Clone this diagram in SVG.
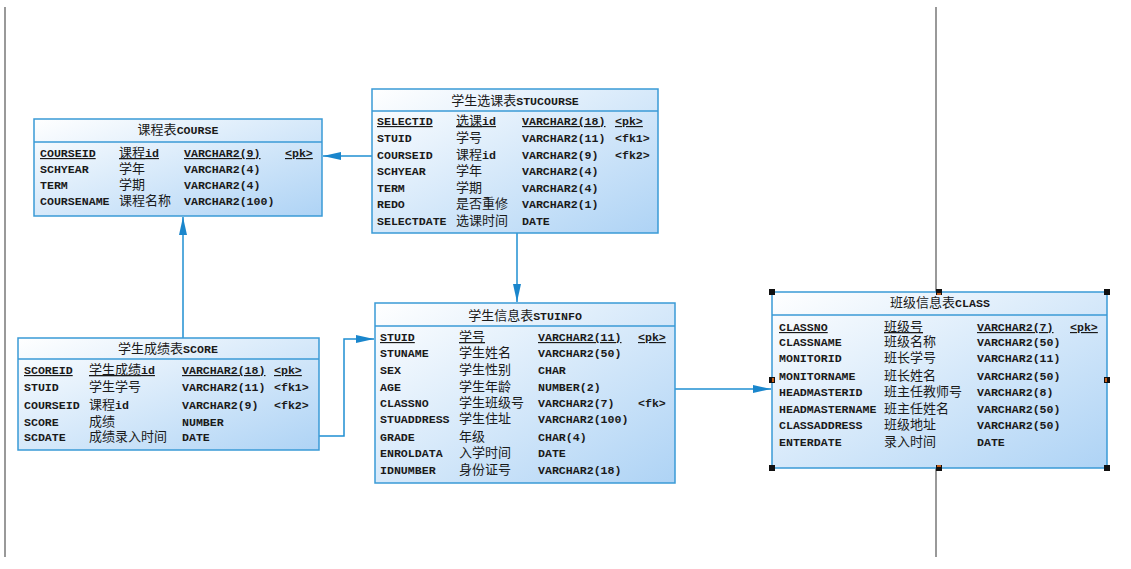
<svg xmlns="http://www.w3.org/2000/svg" width="1131" height="569" viewBox="0 0 1131 569">
<defs>
<linearGradient id="g" x1="0" y1="0" x2="1" y2="1">
<stop offset="0" stop-color="#ffffff"/>
<stop offset="1" stop-color="#aed3f5"/>
</linearGradient>
<marker id="arr" viewBox="0 0 18 10" refX="18" refY="5" markerWidth="18" markerHeight="10" markerUnits="userSpaceOnUse" orient="auto">
<path d="M0,1 L18,5 L0,9 Z" fill="#1a86cc"/>
</marker>
<style>
.box{fill:url(#g);stroke:#3a9ad6;stroke-width:1.5}
.sep{stroke:#3a9ad6;stroke-width:1.5}
text{font-family:"Liberation Mono","DejaVu Sans Mono",monospace;font-size:11.6px;font-weight:bold;fill:#1a1a1a}
.c{font-family:"Noto Sans CJK SC","Noto Sans",sans-serif;font-size:13px;font-weight:normal}
.h{text-anchor:middle}
.u{text-decoration:underline}
.con{fill:none;stroke:#1f8fd2;stroke-width:1.5}
.frame{stroke:#555;stroke-width:1.2}
.hd{fill:#111}
.hm{fill:#c8601a}
</style>
</defs>
<line class="frame" x1="5" y1="7" x2="5" y2="557"/>
<line class="frame" x1="936" y1="7" x2="936" y2="557"/>

<g id="connectors">
<line class="con" x1="372" y1="156" x2="323" y2="156" marker-end="url(#arr)"/>
<line class="con" x1="517" y1="233" x2="517" y2="302" marker-end="url(#arr)"/>
<line class="con" x1="183" y1="338" x2="183" y2="217" marker-end="url(#arr)"/>
<polyline class="con" points="319,436 344,436 344,339 374,339" marker-end="url(#arr)"/>
<line class="con" x1="675" y1="389" x2="771" y2="389" marker-end="url(#arr)"/>
</g>

<g id="course">
<rect class="box" x="34" y="119" width="288" height="97"/>
<line class="sep" x1="34" y1="142" x2="322" y2="142"/>
<text class="h" x="178" y="134"><tspan class="c">课程表</tspan>COURSE</text>
<text x="40" y="157" class="u">COURSEID</text><text x="119" y="157" class="u"><tspan class="c">课程</tspan>id</text><text x="184" y="157" class="u">VARCHAR2(9)</text><text x="285" y="157" class="u">&lt;pk&gt;</text>
<text x="40" y="173">SCHYEAR</text><text x="119" y="173" class="c">学年</text><text x="184" y="173">VARCHAR2(4)</text>
<text x="40" y="189">TERM</text><text x="119" y="189" class="c">学期</text><text x="184" y="189">VARCHAR2(4)</text>
<text x="40" y="205">COURSENAME</text><text x="119" y="205" class="c">课程名称</text><text x="184" y="205">VARCHAR2(100)</text>
</g>

<g id="stucourse">
<rect class="box" x="372" y="89" width="286" height="144"/>
<line class="sep" x1="372" y1="111" x2="658" y2="111"/>
<text class="h" x="515" y="105"><tspan class="c">学生选课表</tspan>STUCOURSE</text>
<text x="377" y="125" class="u">SELECTID</text><text x="456" y="125" class="u"><tspan class="c">选课</tspan>id</text><text x="522" y="125" class="u">VARCHAR2(18)</text><text x="615" y="125" class="u">&lt;pk&gt;</text>
<text x="377" y="142">STUID</text><text x="456" y="142" class="c">学号</text><text x="522" y="142">VARCHAR2(11)</text><text x="615" y="142">&lt;fk1&gt;</text>
<text x="377" y="159">COURSEID</text><text x="456" y="159"><tspan class="c">课程</tspan>id</text><text x="522" y="159">VARCHAR2(9)</text><text x="615" y="159">&lt;fk2&gt;</text>
<text x="377" y="175">SCHYEAR</text><text x="456" y="175" class="c">学年</text><text x="522" y="175">VARCHAR2(4)</text>
<text x="377" y="192">TERM</text><text x="456" y="192" class="c">学期</text><text x="522" y="192">VARCHAR2(4)</text>
<text x="377" y="208">REDO</text><text x="456" y="208" class="c">是否重修</text><text x="522" y="208">VARCHAR2(1)</text>
<text x="377" y="225">SELECTDATE</text><text x="456" y="225" class="c">选课时间</text><text x="522" y="225">DATE</text>
</g>

<g id="score">
<rect class="box" x="18" y="338" width="301" height="112"/>
<line class="sep" x1="18" y1="359" x2="319" y2="359"/>
<text class="h" x="168" y="353"><tspan class="c">学生成绩表</tspan>SCORE</text>
<text x="24" y="374" class="u">SCOREID</text><text x="89" y="374" class="u"><tspan class="c">学生成绩</tspan>id</text><text x="182" y="374" class="u">VARCHAR2(18)</text><text x="274" y="374" class="u">&lt;pk&gt;</text>
<text x="24" y="391">STUID</text><text x="89" y="391" class="c">学生学号</text><text x="182" y="391">VARCHAR2(11)</text><text x="274" y="391">&lt;fk1&gt;</text>
<text x="24" y="409">COURSEID</text><text x="89" y="409"><tspan class="c">课程</tspan>id</text><text x="182" y="409">VARCHAR2(9)</text><text x="274" y="409">&lt;fk2&gt;</text>
<text x="24" y="426">SCORE</text><text x="89" y="426" class="c">成绩</text><text x="182" y="426">NUMBER</text>
<text x="24" y="441">SCDATE</text><text x="89" y="441" class="c">成绩录入时间</text><text x="182" y="441">DATE</text>
</g>

<g id="stuinfo">
<rect class="box" x="375" y="303" width="300" height="180"/>
<line class="sep" x1="375" y1="326" x2="675" y2="326"/>
<text class="h" x="525" y="320"><tspan class="c">学生信息表</tspan>STUINFO</text>
<text x="380" y="341" class="u">STUID</text><text x="459" y="341" class="u c">学号</text><text x="538" y="341" class="u">VARCHAR2(11)</text><text x="638" y="341" class="u">&lt;pk&gt;</text>
<text x="380" y="357">STUNAME</text><text x="459" y="357" class="c">学生姓名</text><text x="538" y="357">VARCHAR2(50)</text>
<text x="380" y="374">SEX</text><text x="459" y="374" class="c">学生性别</text><text x="538" y="374">CHAR</text>
<text x="380" y="391">AGE</text><text x="459" y="391" class="c">学生年龄</text><text x="538" y="391">NUMBER(2)</text>
<text x="380" y="407">CLASSNO</text><text x="459" y="407" class="c">学生班级号</text><text x="538" y="407">VARCHAR2(7)</text><text x="638" y="407">&lt;fk&gt;</text>
<text x="380" y="423">STUADDRESS</text><text x="459" y="423" class="c">学生住址</text><text x="538" y="423">VARCHAR2(100)</text>
<text x="380" y="441">GRADE</text><text x="459" y="441" class="c">年级</text><text x="538" y="441">CHAR(4)</text>
<text x="380" y="457">ENROLDATA</text><text x="459" y="457" class="c">入学时间</text><text x="538" y="457">DATE</text>
<text x="380" y="474">IDNUMBER</text><text x="459" y="474" class="c">身份证号</text><text x="538" y="474">VARCHAR2(18)</text>
</g>

<g id="class">
<rect class="box" x="772" y="292" width="335" height="176"/>
<line class="sep" x1="772" y1="315" x2="1107" y2="315"/>
<text class="h" x="940" y="307"><tspan class="c">班级信息表</tspan>CLASS</text>
<text x="779" y="331" class="u">CLASSNO</text><text x="884" y="331" class="u c">班级号</text><text x="977" y="331" class="u">VARCHAR2(7)</text><text x="1070" y="331" class="u">&lt;pk&gt;</text>
<text x="779" y="346">CLASSNAME</text><text x="884" y="346" class="c">班级名称</text><text x="977" y="346">VARCHAR2(50)</text>
<text x="779" y="362">MONITORID</text><text x="884" y="362" class="c">班长学号</text><text x="977" y="362">VARCHAR2(11)</text>
<text x="779" y="380">MONITORNAME</text><text x="884" y="380" class="c">班长姓名</text><text x="977" y="380">VARCHAR2(50)</text>
<text x="779" y="396">HEADMASTERID</text><text x="884" y="396" class="c">班主任教师号</text><text x="977" y="396">VARCHAR2(8)</text>
<text x="779" y="413">HEADMASTERNAME</text><text x="884" y="413" class="c">班主任姓名</text><text x="977" y="413">VARCHAR2(50)</text>
<text x="779" y="429">CLASSADDRESS</text><text x="884" y="429" class="c">班级地址</text><text x="977" y="429">VARCHAR2(50)</text>
<text x="779" y="446">ENTERDATE</text><text x="884" y="446" class="c">录入时间</text><text x="977" y="446">DATE</text>
<rect class="hd" x="769" y="289" width="6" height="6"/>
<rect class="hd" x="1104" y="289" width="6" height="6"/>
<rect class="hd" x="769" y="465" width="6" height="6"/>
<rect class="hd" x="1104" y="465" width="6" height="6"/>
<rect class="hd" x="936" y="289" width="6" height="6"/>
<rect class="hd" x="936" y="465" width="6" height="6"/>
<rect class="hd" x="769" y="377" width="6" height="6"/>
<rect class="hd" x="1104" y="377" width="6" height="6"/>
<rect class="hm" x="937" y="293" width="4" height="2"/>
<rect class="hm" x="937" y="465" width="4" height="2"/>
<rect class="hm" x="772" y="378" width="2" height="4"/>
<rect class="hm" x="1105" y="378" width="2" height="4"/>
</g>
</svg>
